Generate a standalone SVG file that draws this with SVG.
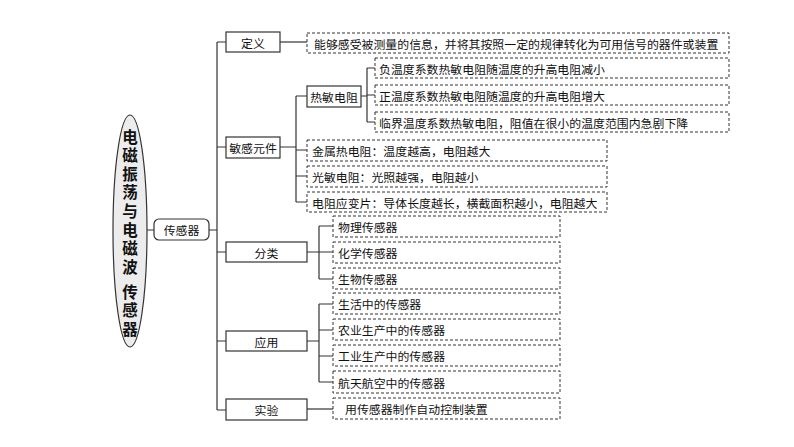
<svg xmlns="http://www.w3.org/2000/svg" width="794" height="447" viewBox="0 0 794 447">
<style>
text{font-family:"Noto Sans CJK SC","Noto Sans",sans-serif;font-size:11.9px;fill:#111;dominant-baseline:central}
.c{text-anchor:middle}
.box{fill:#fff;stroke:#333;stroke-width:1.2}
.dbox{fill:#fff;stroke:#333;stroke-width:1;stroke-dasharray:3 2}
.ln{fill:none;stroke:#333;stroke-width:1.2}
.title{font-size:15.5px;font-weight:bold;writing-mode:vertical-rl;letter-spacing:3.1px}
</style>
<rect width="794" height="447" fill="#fff"/>
<g id="connectors">
<path class="ln" d="M147 230H154M209 230H217M217 42V410M217 42H226M217 147H226M217 252H226M217 341H226M217 410H226"/>
<path class="ln" d="M280 42H307"/>
<path class="ln" d="M280 147H296M296 96V202M296 96H307M296 150H307M296 176H307M296 202H307"/>
<path class="ln" d="M361 96H367M367 68V122M367 68H375M367 95H375M367 122H375"/>
<path class="ln" d="M307 252H319M319 226V279M319 226H333M319 252H333M319 279H333"/>
<path class="ln" d="M307 341H319M319 304V382M319 304H333M319 330H333M319 356H333M319 382H333"/>
<path class="ln" d="M307 409H333"/>
</g>
<g id="root">
<ellipse cx="130" cy="231" rx="17" ry="116" fill="#ececec" stroke="#333" stroke-width="1.2"/>
<text class="title" x="130" y="129">电磁振荡与电磁波</text>
<text class="title" x="130" y="284">传感器</text>
</g>
<g id="n-sensor"><rect class="box" x="154" y="219" width="55" height="21" rx="5"/><text class="c" x="181.5" y="229.5">传感器</text></g>
<g id="n-def"><rect class="box" x="226" y="32" width="54" height="20"/><text class="c" x="253" y="42">定义</text></g>
<g id="n-elem"><rect class="box" x="226" y="137" width="54" height="21"/><text class="c" x="253" y="147.5">敏感元件</text></g>
<g id="n-class"><rect class="box" x="226" y="242" width="81" height="20"/><text class="c" x="266.5" y="252">分类</text></g>
<g id="n-app"><rect class="box" x="226" y="331" width="81" height="20"/><text class="c" x="266.5" y="341">应用</text></g>
<g id="n-exp"><rect class="box" x="226" y="399" width="81" height="21"/><text class="c" x="266.5" y="409.5">实验</text></g>
<g id="d-def"><rect class="dbox" x="307" y="33" width="422" height="20"/><text x="314" y="43">能够感受被测量的信息，并将其按照一定的规律转化为可用信号的器件或装置</text></g>
<g id="n-therm"><rect class="box" x="307" y="86" width="54" height="21"/><text class="c" x="334" y="96.5">热敏电阻</text></g>
<g id="d-ntc"><rect class="dbox" x="375" y="58" width="354" height="20"/><text x="379" y="68">负温度系数热敏电阻随温度的升高电阻减小</text></g>
<g id="d-ptc"><rect class="dbox" x="375" y="85" width="354" height="20"/><text x="379" y="95">正温度系数热敏电阻随温度的升高电阻增大</text></g>
<g id="d-ctr"><rect class="dbox" x="375" y="112" width="354" height="20"/><text x="379" y="122">临界温度系数热敏电阻，阻值在很小的温度范围内急剧下降</text></g>
<g id="d-metal"><rect class="dbox" x="307" y="140" width="300" height="21"/><text x="312" y="150.5">金属热电阻：温度越高，电阻越大</text></g>
<g id="d-photo"><rect class="dbox" x="307" y="166" width="300" height="21"/><text x="312" y="176.5">光敏电阻：光照越强，电阻越小</text></g>
<g id="d-strain"><rect class="dbox" x="307" y="192" width="300" height="20"/><text x="312" y="202">电阻应变片：导体长度越长，横截面积越小，电阻越大</text></g>
<g id="d-phys"><rect class="dbox" x="333" y="216" width="227" height="21"/><text x="338" y="226.5">物理传感器</text></g>
<g id="d-chem"><rect class="dbox" x="333" y="242" width="227" height="21"/><text x="338" y="252.5">化学传感器</text></g>
<g id="d-bio"><rect class="dbox" x="333" y="268" width="227" height="21"/><text x="338" y="278.5">生物传感器</text></g>
<g id="d-life"><rect class="dbox" x="333" y="293" width="227" height="21"/><text x="338" y="303.5">生活中的传感器</text></g>
<g id="d-agri"><rect class="dbox" x="333" y="319" width="227" height="21"/><text x="338" y="329.5">农业生产中的传感器</text></g>
<g id="d-ind"><rect class="dbox" x="333" y="345" width="227" height="21"/><text x="338" y="355.5">工业生产中的传感器</text></g>
<g id="d-aero"><rect class="dbox" x="333" y="371" width="227" height="22"/><text x="338" y="382">航天航空中的传感器</text></g>
<g id="d-exp"><rect class="dbox" x="333" y="398" width="227" height="21"/><text x="345" y="408.5">用传感器制作自动控制装置</text></g>
</svg>
